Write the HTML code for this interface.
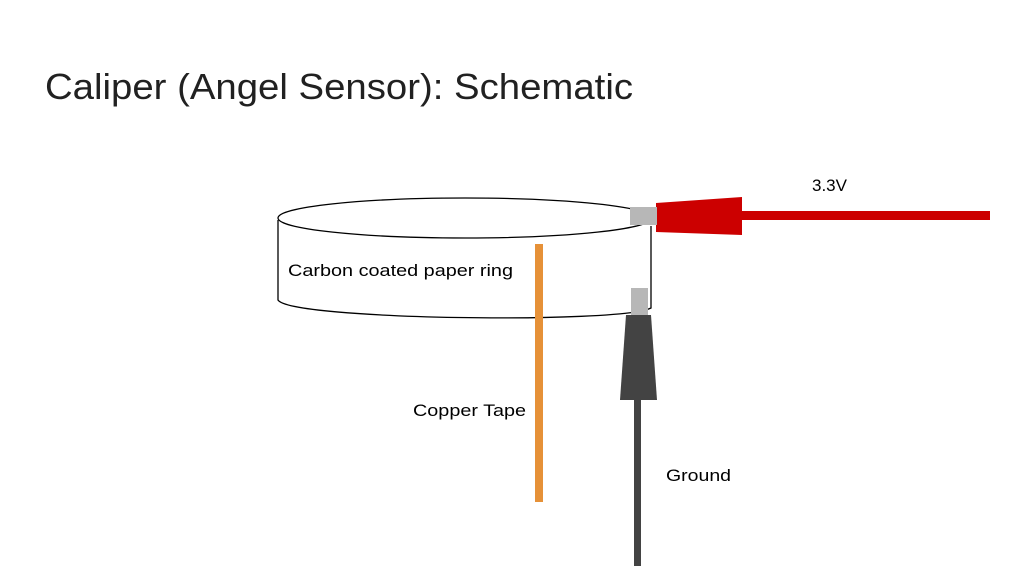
<!DOCTYPE html>
<html><head><meta charset="utf-8"><style>
html,body{margin:0;padding:0;background:#fff;}
svg{display:block;}
</style></head><body>
<svg width="1024" height="576" viewBox="0 0 1024 576" xmlns="http://www.w3.org/2000/svg">
<rect width="1024" height="576" fill="#fff"/>
<text x="45" y="99" font-family="Liberation Sans, sans-serif" font-size="36" fill="#212121" textLength="588" lengthAdjust="spacingAndGlyphs">Caliper (Angel Sensor): Schematic</text>
<path d="M278,220 L278,300 C290,320 620,324 651,308 L651,226" fill="#fff" stroke="#000" stroke-width="1.3"/>
<ellipse cx="465" cy="218" rx="187" ry="20" fill="#fff" stroke="#000" stroke-width="1.3"/>
<text x="288" y="276" font-family="Liberation Sans, sans-serif" font-size="17" fill="#000" textLength="225" lengthAdjust="spacingAndGlyphs">Carbon coated paper ring</text>
<rect x="535" y="244" width="8" height="258" fill="#e69138"/>
<text x="413" y="416" font-family="Liberation Sans, sans-serif" font-size="17" fill="#000" textLength="113" lengthAdjust="spacingAndGlyphs">Copper Tape</text>
<rect x="742" y="211" width="248" height="9" fill="#cc0000"/>
<polygon points="656,203 742,197 742,235 656,232" fill="#cc0000"/>
<rect x="630" y="207" width="27" height="18" fill="#b7b7b7"/>
<text x="812" y="191" font-family="Liberation Sans, sans-serif" font-size="17" fill="#000" textLength="35" lengthAdjust="spacingAndGlyphs">3.3V</text>
<rect x="631" y="288" width="17" height="28" fill="#b7b7b7"/>
<polygon points="626,315 651,315 657,400 620,400" fill="#434343"/>
<rect x="634" y="400" width="7" height="166" fill="#434343"/>
<text x="666" y="481" font-family="Liberation Sans, sans-serif" font-size="17" fill="#000" textLength="65" lengthAdjust="spacingAndGlyphs">Ground</text>
</svg>
</body></html>
